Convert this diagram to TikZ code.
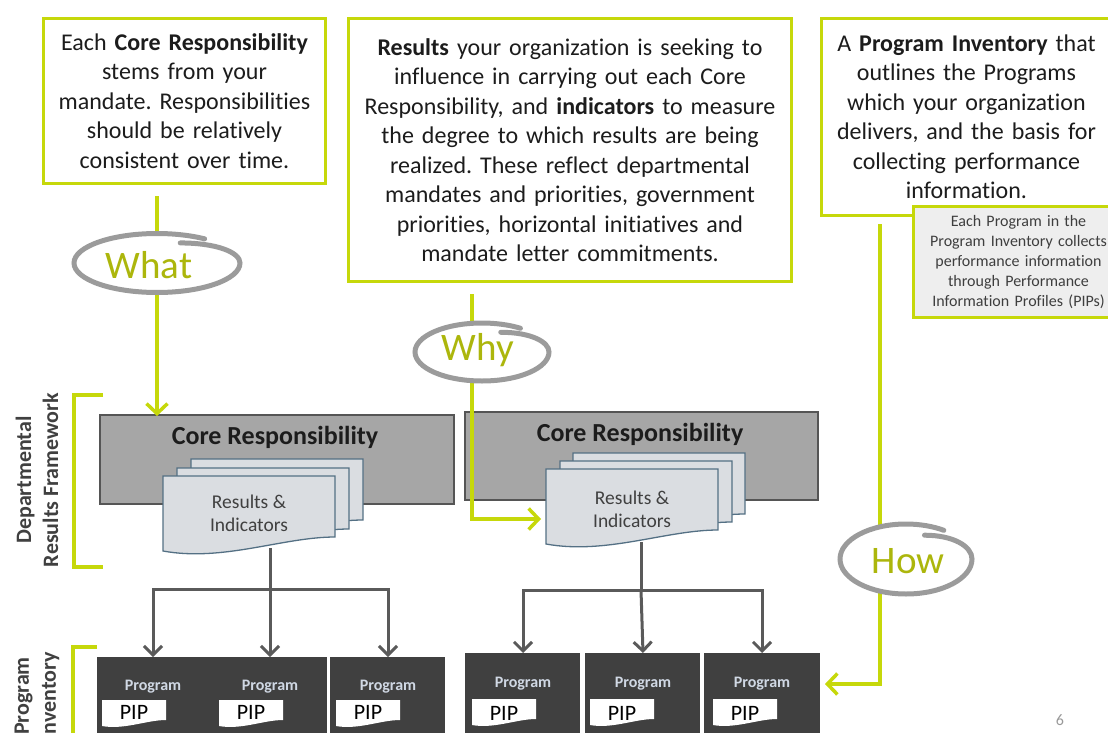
\documentclass[tikz,border=0pt]{standalone}
\usepackage{fontspec}
\setmainfont{Carlito}[Ligatures=NoCommon]
\usetikzlibrary{arrows.meta,calc}
\frenchspacing

\definecolor{lime}{RGB}{198,216,10}
\definecolor{ink}{RGB}{28,28,28}
\definecolor{wordlime}{RGB}{172,182,12}
\definecolor{ringgray}{RGB}{155,155,155}
\definecolor{corefill}{RGB}{166,166,166}
\definecolor{coreedge}{RGB}{85,85,85}
\definecolor{sheetfill}{RGB}{218,221,225}
\definecolor{sheetedge}{RGB}{84,112,132}
\definecolor{progfill}{RGB}{64,64,64}
\definecolor{progtext}{RGB}{208,216,228}
\definecolor{flowgray}{RGB}{90,90,90}
\definecolor{labelgray}{RGB}{64,64,64}
\definecolor{notefill}{RGB}{238,238,238}

% a stacked results sheet with a wavy lower edge (top-left corner given)
\newcommand\docsheet[2]{%
  \begin{scope}[shift={(#1,#2)}]
    \draw[sheetstyle] (0,0) -- (172,0) -- (172,61)
      .. controls (120,61) and (60,86) .. (0,75) -- cycle;
  \end{scope}}
% a small white PIP sheet (top-left corner given)
\newcommand\pipsheet[2]{%
  \begin{scope}[shift={(#1,#2)}]
    \fill[white] (0,0) -- (64,0) -- (64,20)
      .. controls (45,20) and (22,30) .. (0,26) -- cycle;
  \end{scope}}
% hand-drawn ring around a keyword (centre, x radius, y radius)
\newcommand\handring[3]{%
  \fill[white] (#1) ellipse[x radius=#2, y radius=#3];
  \begin{scope}[shift={(#1)}, xscale=#2, yscale=#3]
    \draw[ringpen] (0.28,-0.68) .. controls (0.72,-0.68) and (1,-0.36) .. (1,0)
      arc[start angle=0, end angle=305, radius=1];
  \end{scope}}

\begin{document}
\begin{tikzpicture}[x=1pt, y=-1pt,
  notebox/.style={draw=lime, line width=3pt, fill=white, align=center,
    inner sep=0pt, anchor=north west, text=ink,
    font=\fontsize{24}{29.5}\selectfont},
  tipbox/.style={draw=lime, line width=3pt, fill=notefill, align=center,
    inner sep=0pt, anchor=north west, text=ink!85,
    font=\fontsize{16}{20}\selectfont},
  corebox/.style={draw=coreedge, line width=1.5pt, fill=corefill,
    anchor=north west, inner sep=0pt},
  coretext/.style={font=\fontsize{26}{30}\selectfont\bfseries, text=ink},
  sheetstyle/.style={draw=sheetedge, line width=1.3pt, fill=sheetfill},
  sheettext/.style={align=center, text=labelgray,
    font=\fontsize{19.5}{23}\selectfont},
  progbox/.style={fill=progfill, draw=none, anchor=north west, inner sep=0pt},
  progword/.style={font=\fontsize{16}{18}\selectfont\bfseries, text=progtext},
  pipword/.style={font=\fontsize{22}{24}\selectfont, text=black},
  flow/.style={draw=flowgray, line width=3pt},
  flowarrow/.style={flow, -{Straight Barb[length=9pt, width=18pt]}},
  limeline/.style={draw=lime, line width=3.5pt},
  limearrow/.style={limeline, -{Straight Barb[length=10pt, width=21pt]}},
  ringpen/.style={draw=ringgray, line width=5pt, line cap=round},
  keyword/.style={font=\fontsize{39}{40}\selectfont, text=wordlime},
  sidelabel/.style={rotate=90, align=center, text=labelgray,
    font=\fontsize{22}{27}\selectfont\bfseries}
]
\useasboundingbox (0,0) rectangle (1108,733);

% ---- explanatory boxes along the top ----
\node[notebox, minimum width=282pt, minimum height=165pt, text width=278pt]
  (what-note) at (42,17)
  {Each \textbf{Core Responsibility}\\ stems from your\\ mandate. Responsibilities\\
   should be relatively\\ consistent over time.};
\node[notebox, minimum width=443pt, minimum height=263pt, text width=440pt]
  (why-note) at (347,17)
  {\textbf{Results} your organization is seeking to\\ influence in carrying out each Core\\
   Responsibility, and \textbf{indicators} to measure\\ the degree to which results are being\\
   realized. These reflect departmental\\ mandates and priorities, government\\
   priorities, horizontal initiatives and\\ mandate letter commitments.};
\node[notebox, minimum width=290pt, minimum height=197pt, text width=286pt]
  (how-note) at (820,17)
  {A \textbf{Program Inventory} that\\ outlines the Programs\\ which your organization\\
   delivers, and the basis for\\ collecting performance\\ information.};
\node[tipbox, minimum width=210pt, minimum height=111pt, text width=206pt]
  (pip-note) at (912,205)
  {Each Program in the\\ Program Inventory collects\\ performance information\\
   through Performance\\ Information Profiles (PIPs)};

% ---- side labels and brackets ----
\node[sidelabel] (drf-label) at (37,480) {Departmental\\ Results Framework};
\node[sidelabel] (pi-label) at (37,696) {Program\\ Inventory};
\draw[limeline] (103,395) -- (74,395) -- (74,567) -- (103,567);
\draw[limeline] (97,647) -- (73,647) -- (73,745);

% ---- core responsibilities ----
\node[corebox, minimum width=354pt, minimum height=89pt] (core1) at (99,414) {};
\node[coretext] (core1-title) at (275,437) {Core Responsibility};
\node[corebox, minimum width=353pt, minimum height=88pt] (core2) at (464,411) {};
\node[coretext] (core2-title) at (640,434) {Core Responsibility};

% ---- results & indicators sheet stacks ----
\docsheet{191}{459}\docsheet{177}{468}\docsheet{163}{476}
\node[sheettext] (ri1) at (249,513) {Results \&\\ Indicators};
\docsheet{573}{453}\docsheet{560}{461}\docsheet{546}{469}
\node[sheettext] (ri2) at (632,509) {Results \&\\ Indicators};

% ---- programs ----
\node[progbox, minimum width=230pt, minimum height=90pt] (pbA) at (97,657) {};
\node[progbox, minimum width=115pt, minimum height=90pt] (pbB) at (330,657) {};
\node[progbox, minimum width=115pt, minimum height=90pt] (pbC) at (465,653) {};
\node[progbox, minimum width=115pt, minimum height=90pt] (pbD) at (585,653) {};
\node[progbox, minimum width=116pt, minimum height=90pt] (pbE) at (704,653) {};

\node[progword] (p1) at (153,687) {Program};
\node[progword] (p2) at (270,687) {Program};
\node[progword] (p3) at (388,687) {Program};
\node[progword] (p4) at (523,684) {Program};
\node[progword] (p5) at (643,684) {Program};
\node[progword] (p6) at (762,684) {Program};

\pipsheet{102}{700}\pipsheet{219}{700}\pipsheet{336}{700}
\pipsheet{472}{699}\pipsheet{590}{699}\pipsheet{713}{699}
\node[pipword] (pip1) at (134,712) {PIP};
\node[pipword] (pip2) at (251,712) {PIP};
\node[pipword] (pip3) at (368,712) {PIP};
\node[pipword] (pip4) at (504,713) {PIP};
\node[pipword] (pip5) at (622,713) {PIP};
\node[pipword] (pip6) at (745,713) {PIP};

% ---- grey fan-out from each stack to its programs ----
\coordinate (ri1-foot) at (270,548);
\coordinate (fork1) at (270,589);
\draw[flow] (ri1-foot) -- (fork1);
\draw[flowarrow] (fork1) -| (p1 |- pbA.north);
\draw[flowarrow] (fork1) -- (p2 |- pbA.north);
\draw[flowarrow] (fork1) -| (p3 |- pbB.north);

\coordinate (ri2-foot) at (641,542);
\coordinate (fork2) at (641,590);
\draw[flow] (ri2-foot) -- (fork2);
\draw[flowarrow] (fork2) -| (p4 |- pbC.north);
\draw[flowarrow] (fork2) -- (p5 |- pbD.north);
\draw[flowarrow] (fork2) -| (p6 |- pbE.north);

% ---- What / Why / How guide lines ----
\coordinate (what-top) at (157,196);
\coordinate (what-tip) at (157,416);
\draw[limearrow] (what-top) -- (what-tip);

\coordinate (why-top) at (472,294);
\coordinate (why-bend) at (472,519);
\coordinate (why-tip) at (541,519);
\draw[limearrow] (why-top) -- (why-bend) -- (why-tip);

\coordinate (how-top) at (880,224);
\coordinate (how-bend) at (880,684);
\coordinate (how-tip) at (825,684);
\draw[limearrow] (how-top) -- (how-bend) -- (how-tip);

% ---- hand-drawn rings with keywords ----
\handring{157,263}{83}{29.5}
\node[keyword] (what) at (149,265) {What};
\handring{482,352}{67}{29}
\node[keyword] (why) at (478,350) {Why};
\handring{906,559}{66}{35}
\node[keyword] (how) at (908,561) {How};

% ---- page number ----
\node[font=\fontsize{16}{18}\selectfont, text=gray!80] (page) at (1060,720) {6};
\end{tikzpicture}
\end{document}
